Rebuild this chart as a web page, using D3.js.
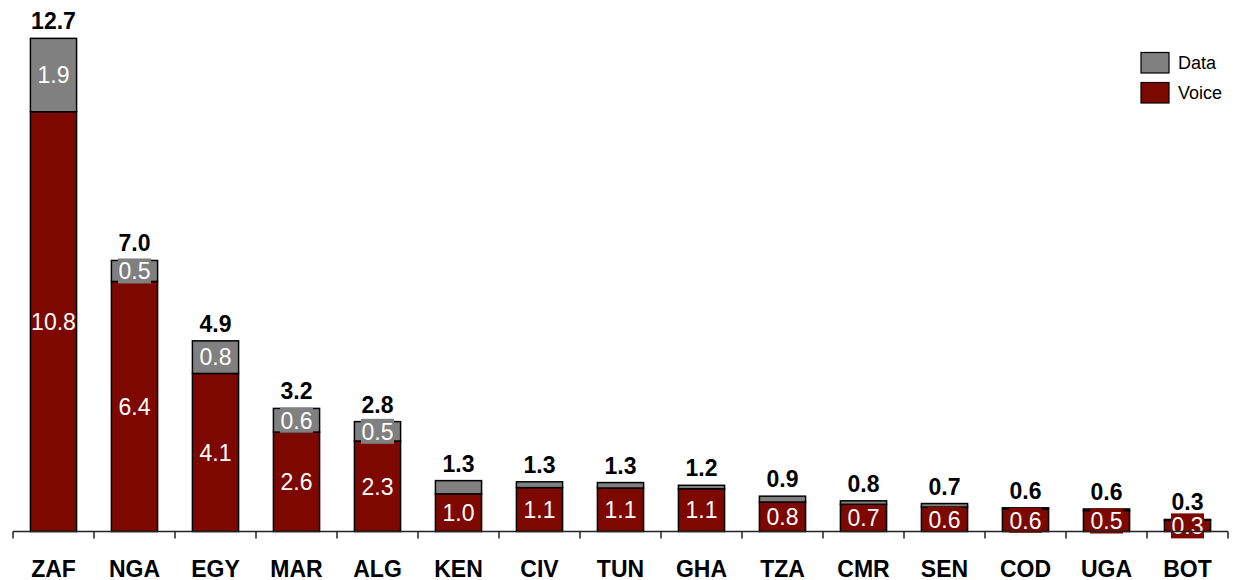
<!DOCTYPE html>
<html>
<head>
<meta charset="utf-8">
<script src="https://cdn.jsdelivr.net/npm/d3@7"></script>
<style>
  body { margin: 0; background: #fff; }
  text { font-family: "Liberation Sans", Arial, sans-serif; }
</style>
</head>
<body>
<script>
// ---- data ----
var countries = ["ZAF","NGA","EGY","MAR","ALG","KEN","CIV","TUN","GHA","TZA","CMR","SEN","COD","UGA","BOT"];
var voice = [10.81, 6.44, 4.07, 2.56, 2.33, 0.97, 1.13, 1.12, 1.10, 0.76, 0.70, 0.63, 0.58, 0.54, 0.29];
var dataVals = [1.89, 0.54, 0.84, 0.61, 0.50, 0.34, 0.15, 0.14, 0.09, 0.15, 0.09, 0.09, 0.03, 0.04, 0.02];
var seriesNames = ["Data","Voice"];
var seriesColors = {"Voice": "#7d0800", "Data": "#808080"};

// ---- layout ----
var W = 1233, H = 580;
var baseY = 531.5;
var dataLabelMin = 0.4;

var svg = d3.select("body").append("svg")
  .attr("width", W)
  .attr("height", H);

var x = d3.scaleBand()
  .domain(countries)
  .range([13, 1228])
  .paddingInner(0.43)
  .paddingOuter(0.215);

var y = d3.scaleLinear()
  .domain([0, 13])
  .range([baseY, baseY - 13 * 38.83]);

var rows = countries.map(function(c, i) {
  return {c: c, voice: voice[i], data: dataVals[i], total: voice[i] + dataVals[i]};
});

// bars
var g = svg.append("g");
rows.forEach(function(d) {
  g.append("rect")
    .attr("x", x(d.c))
    .attr("width", x.bandwidth())
    .attr("y", y(d.voice))
    .attr("height", y(0) - y(d.voice))
    .attr("fill", seriesColors.Voice)
    .attr("stroke", "#000")
    .attr("stroke-width", 1.5);
  g.append("rect")
    .attr("x", x(d.c))
    .attr("width", x.bandwidth())
    .attr("y", y(d.total))
    .attr("height", y(d.voice) - y(d.total))
    .attr("fill", seriesColors.Data)
    .attr("stroke", "#000")
    .attr("stroke-width", 1.5);
});

// segment labels with background boxes
function segLabel(cx, cy, val, color) {
  g.append("rect")
    .attr("x", cx - 16.5)
    .attr("y", cy - 12.5)
    .attr("width", 33)
    .attr("height", 25)
    .attr("fill", color);
  g.append("text")
    .attr("x", cx)
    .attr("y", cy + 8.3)
    .attr("text-anchor", "middle")
    .attr("fill", "#fff")
    .style("font-size", "23px")
    .text(val.toFixed(1));
}
rows.forEach(function(d) {
  var cx = x(d.c) + x.bandwidth() / 2;
  segLabel(cx, (y(0) + y(d.voice)) / 2, d.voice, seriesColors.Voice);
  if (d.data >= dataLabelMin) {
    segLabel(cx, (y(d.voice) + y(d.total)) / 2, d.data, seriesColors.Data);
  }
  // totals
  g.append("text")
    .attr("x", cx)
    .attr("y", y(d.total) - 9)
    .attr("text-anchor", "middle")
    .attr("fill", "#000")
    .style("font-size", "23px")
    .style("font-weight", "bold")
    .text(d.total.toFixed(1));
});

// axis
var step = x.step();
var axis = svg.append("g");
axis.append("line")
  .attr("x1", 13).attr("x2", 1228)
  .attr("y1", baseY).attr("y2", baseY)
  .attr("stroke", "#222").attr("stroke-width", 1.5);
d3.range(countries.length + 1).forEach(function(i) {
  var tx = 13 + i * step;
  axis.append("line")
    .attr("x1", tx).attr("x2", tx)
    .attr("y1", baseY).attr("y2", baseY + 7)
    .attr("stroke", "#222").attr("stroke-width", 1.5);
});
countries.forEach(function(c) {
  axis.append("text")
    .attr("x", x(c) + x.bandwidth() / 2)
    .attr("y", 576.5)
    .attr("text-anchor", "middle")
    .style("font-size", "23px")
    .style("font-weight", "bold")
    .text(c);
});

// legend
var legend = svg.append("g");
seriesNames.forEach(function(s, i) {
  legend.append("rect")
    .attr("x", 1141)
    .attr("y", 52.5 + i * 30)
    .attr("width", 28)
    .attr("height", 20.5)
    .attr("fill", seriesColors[s])
    .attr("stroke", "#000")
    .attr("stroke-width", 1.2);
  legend.append("text")
    .attr("x", 1178)
    .attr("y", 69 + i * 30)
    .style("font-size", "18px")
    .text(s);
});
</script>
</body>
</html>
